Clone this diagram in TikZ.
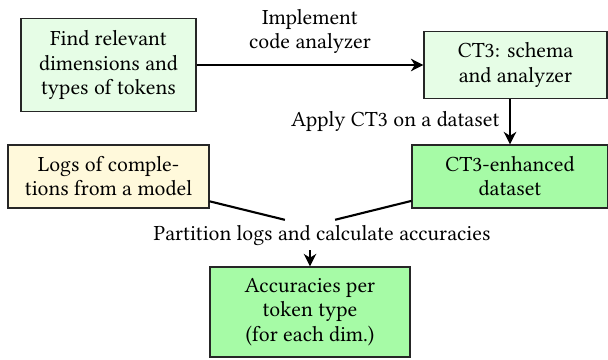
\documentclass[tikz,border=0pt]{standalone}
\usepackage{fontspec}
\setmainfont{Libertinus Serif}
\usetikzlibrary{arrows.meta}
\definecolor{lightgreen}{RGB}{230,253,230}
\definecolor{midgreen}{RGB}{166,251,166}
\definecolor{lightyellow}{RGB}{255,249,219}
\tikzset{
  box/.style={draw=black!85, line width=0.6pt, align=center, inner sep=0pt, font=\fontsize{11.3}{12.6}\selectfont},
  conn/.style={line width=1.1pt, black},
  arr/.style={conn, -{Stealth[length=6.5pt,width=6.5pt,inset=2pt]}},
  lbl/.style={font=\fontsize{11.3}{12.6}\selectfont, align=center, inner sep=2pt}
}
\begin{document}
\begin{tikzpicture}[x=0.5217pt,y=-0.5217pt]
\useasboundingbox (0,0) rectangle (608,360);
\node[box, fill=lightgreen, minimum width=91.3pt, minimum height=48.5pt] (find) at (108.5,65) {Find relevant\\dimensions and\\types of tokens};
\node[box, fill=lightgreen, minimum width=95.5pt, minimum height=35pt] (ct3) at (515.5,65) {CT3: schema\\and analyzer};
\node[box, fill=lightyellow, minimum width=104.9pt, minimum height=32.9pt] (logs) at (108.5,176.5) {Logs of comple-\\tions from a model};
\node[box, fill=midgreen, minimum width=102.3pt, minimum height=32.9pt] (enh) at (510,176.5) {CT3-enhanced\\dataset};
\node[box, fill=midgreen, minimum width=104.4pt, minimum height=47pt] (acc) at (310,312) {Accuracies per\\token type\\(for each dim.)};
\node[lbl] (part) at (322,236) {Partition logs and calculate accuracies};
\coordinate (m) at (310,226);
\draw[arr] (find) -- node[lbl, above, yshift=3.5pt] {Implement\\code analyzer} (ct3);
\draw[arr] (enh.north |- ct3.south) -- node[lbl, left, xshift=-3pt] {Apply CT3 on a dataset} (enh.north);
\draw[conn, shorten >=13.5pt] (logs) -- (m);
\draw[conn, shorten >=13.5pt] (enh) -- (m);
\draw[arr] (part.south -| acc.north) -- (acc);
\end{tikzpicture}
\end{document}
